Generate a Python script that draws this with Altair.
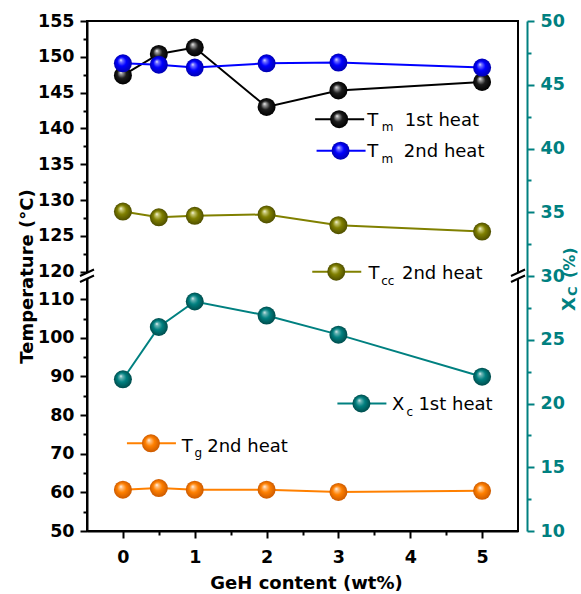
import altair as alt
import pandas as pd

# ---------------- data ----------------
ge_content = [0, 0.5, 1, 2, 3, 5]
tm_1st_heat = [147.4, 150.4, 151.3, 143.0, 145.3, 146.5]
tm_2nd_heat = [149.1, 148.9, 148.5, 149.1, 149.2, 148.5]
tcc_2nd_heat = [128.4, 127.6, 127.8, 128.0, 126.5, 125.6]
tg_2nd_heat = [60.7, 61.1, 60.7, 60.7, 60.1, 60.4]
xc_1st_heat = [21.9, 26.0, 28.0, 26.9, 25.4, 22.1]

x_ticks = [0, 1, 2, 3, 4, 5]
x_minor_ticks = [0.5, 1.5, 2.5, 3.5, 4.5]
temp_ticks = [50, 60, 70, 80, 90, 100, 110, 120, 125, 130, 135, 140, 145, 150, 155]
temp_minor_ticks = [55, 65, 75, 85, 95, 105, 122.5, 127.5, 132.5, 137.5, 142.5, 147.5, 152.5]
xc_ticks = [10, 15, 20, 25, 30, 35, 40, 45, 50]
xc_minor_ticks = [12.5, 17.5, 22.5, 27.5, 32.5, 37.5, 42.5, 47.5]

left_series = ["Tm 1st heat", "Tm 2nd heat", "Tcc 2nd heat", "Tg 2nd heat"]
left_values = [tm_1st_heat, tm_2nd_heat, tcc_2nd_heat, tg_2nd_heat]

# in-plot legend entries (anchor = legend marker, in data units)
label_series = ["Tm 1st heat", "Tm 2nd heat", "Tcc 2nd heat", "Xc 1st heat", "Tg 2nd heat"]
label_x = [3.01, 3.03, 2.97, 3.32, 0.39]
label_y = [141.3, 136.9, 120.0, 20.0, 72.7]
label_main = ["T", "T", "T", "X", "T"]
label_sub = ["m", "m", "cc", "c", "g"]
label_rest = ["1st heat", "2nd heat", "2nd heat", "1st heat", "2nd heat"]

# ---------------- styles ----------------
FONT = "DejaVu Sans"
TEAL = "#008080"
COLORS = {
    "Tm 1st heat": "#000000",
    "Tm 2nd heat": "#0000ff",
    "Tcc 2nd heat": "#808000",
    "Xc 1st heat": TEAL,
    "Tg 2nd heat": "#ff8000",
}
BALL = {
    "Tm 1st heat": ("#a0a0a0", "#1c1c1c", "#000000"),
    "Tm 2nd heat": ("#7878ff", "#0000ff", "#0000b0"),
    "Tcc 2nd heat": ("#caca78", "#808000", "#4e4e00"),
    "Xc 1st heat": ("#70b8b8", "#008080", "#004c4c"),
    "Tg 2nd heat": ("#ffc48a", "#ff8000", "#cc5a00"),
}
# dx of main letter, dx of subscript, dx of rest, dy baseline
LABEL_OFFSETS = {
    "Tm 1st heat": (28, 42.5, 65.7, 6.7),
    "Tm 2nd heat": (26.6, 41, 63.3, 6.6),
    "Tcc 2nd heat": (32.3, 45, 65.7, 7.6),
    "Xc 1st heat": (30.7, 45, 57, 6.7),
    "Tg 2nd heat": (30.7, 43.5, 56.3, 8.4),
}

XS = alt.Scale(domain=[-0.5, 5.5], nice=False, zero=False)
YL = alt.Scale(domain=[50, 116, 119.4, 155], range=[510, 255, 255, 0], nice=False, zero=False)
YR = alt.Scale(domain=[10, 50], range=[510, 0], nice=False, zero=False)


def gradient(name):
    light, main, dark = BALL[name]
    return {
        "gradient": "radial",
        "x1": 0.38, "y1": 0.32, "r1": 0.0,
        "x2": 0.5, "y2": 0.5, "r2": 0.5,
        "stops": [
            {"offset": 0.0, "color": "#ffffff"},
            {"offset": 0.16, "color": light},
            {"offset": 0.5, "color": main},
            {"offset": 1.0, "color": dark},
        ],
    }


def ball(name):
    return dict(shape="circle", filled=True, fill=gradient(name), strokeWidth=0, size=324, opacity=1)


def X(field="x", axis=None):
    return alt.X(f"{field}:Q", scale=XS, axis=axis)


def YLe(field="y", axis=None):
    return alt.Y(f"{field}:Q", scale=YL, axis=axis)


def YRe(field="y", axis=None):
    return alt.Y(f"{field}:Q", scale=YR, axis=axis)


common_axis = dict(
    labelFont=FONT, labelFontSize=17.5, labelFontWeight="bold",
    titleFont=FONT, titleFontSize=18, titleFontWeight="bold",
    grid=False, labelOverlap=False, labelFlush=False, tickWidth=2, domainWidth=2,
)

AX_X = alt.Axis(orient="bottom", values=x_ticks, format="d", title="GeH content (wt%)",
                titleY=57, titleX=219, titleBaseline="alphabetic", titleAlign="center",
                tickSize=7, labelPadding=10, labelColor="black", tickColor="black",
                domainColor="black", titleColor="black", **common_axis)
AX_X_MIN = alt.Axis(orient="bottom", values=x_minor_ticks, title="", labels=False, domain=False,
                    tickSize=4, tickWidth=2, tickColor="black", grid=False)
AX_L = alt.Axis(orient="left", values=temp_ticks, format="d", title="Temperature (°C)",
                titleAngle=270, titleX=-55, titleY=255, titleBaseline="alphabetic", titleAlign="center",
                tickSize=7, labelPadding=6, labelColor="black", tickColor="black",
                domainColor="black", titleColor="black", **common_axis)
AX_L_MIN = alt.Axis(orient="left", values=temp_minor_ticks, title="", labels=False, domain=False,
                    tickSize=4, tickWidth=2, tickColor="black", grid=False)
AX_R = alt.Axis(orient="right", values=xc_ticks, format="d", title="", offset=9,
                tickSize=7, labelPadding=6, labelColor=TEAL, tickColor=TEAL,
                domainColor=TEAL, **common_axis)
AX_R_MIN = alt.Axis(orient="right", values=xc_minor_ticks, title="", labels=False, domain=False,
                    offset=9, tickSize=4, tickWidth=2, tickColor=TEAL, grid=False)

# ---------------- tables ----------------
df_left = pd.DataFrame(
    [{"x": x, "y": v, "series": s} for s, vals in zip(left_series, left_values) for x, v in zip(ge_content, vals)]
)
df_xc = pd.DataFrame({"x": ge_content, "y": xc_1st_heat})
axis_df = pd.DataFrame({"x": [0.0], "y": [100.0], "r": [20.0]})
break_df = pd.DataFrame({"x": [-0.5, 5.5], "y": [117.7, 117.7]})

layers = []

# axes carriers
layers.append(alt.Chart(axis_df).mark_point(opacity=0).encode(x=X(axis=AX_X), y=YLe(axis=AX_L)))
layers.append(alt.Chart(axis_df).mark_point(opacity=0).encode(x=X(axis=AX_X_MIN), y=YLe(axis=AX_L_MIN)))
layers.append(alt.Chart(axis_df).mark_point(opacity=0).encode(x=X(), y=YRe("r", axis=AX_R)))
layers.append(alt.Chart(axis_df).mark_point(opacity=0).encode(x=X(), y=YRe("r", axis=AX_R_MIN)))

# data lines
layers.append(
    alt.Chart(df_left).mark_line(strokeWidth=2).encode(
        x=X(), y=YLe(),
        color=alt.Color("series:N", scale=alt.Scale(domain=left_series, range=[COLORS[s] for s in left_series]),
                        legend=None),
    )
)
layers.append(alt.Chart(df_xc).mark_line(strokeWidth=2, color=TEAL).encode(x=X(), y=YRe()))

# data balls
for s in left_series:
    layers.append(
        alt.Chart(df_left).transform_filter(alt.datum.series == s).mark_point(**ball(s)).encode(x=X(), y=YLe())
    )
layers.append(alt.Chart(df_xc).mark_point(**ball("Xc 1st heat")).encode(x=X(), y=YRe()))

# in-plot legend entries
for i, name in enumerate(label_series):
    sc = YR if name == "Xc 1st heat" else YL
    d = pd.DataFrame({"x": [label_x[i]], "y": [label_y[i]], "main": [label_main[i]],
                      "sub": [label_sub[i]], "rest": [label_rest[i]]})
    base = alt.Chart(d).encode(x=X(), y=alt.Y("y:Q", scale=sc, axis=None))
    dxm, dxs, dxr, dy = LABEL_OFFSETS[name]
    layers.append(base.mark_rule(color=COLORS[name], strokeWidth=2, xOffset=-24, x2Offset=25).encode(x2="x:Q"))
    layers.append(base.mark_point(**ball(name)))
    layers.append(base.mark_text(align="left", baseline="alphabetic", font=FONT, fontSize=18, color="black",
                                 dx=dxm, dy=dy).encode(text="main:N"))
    layers.append(base.mark_text(align="left", baseline="alphabetic", font=FONT, fontSize=12, color="black",
                                 dx=dxs, dy=dy + 5.5).encode(text="sub:N"))
    layers.append(base.mark_text(align="left", baseline="alphabetic", font=FONT, fontSize=18, color="black",
                                 dx=dxr, dy=dy).encode(text="rest:N"))

# right axis title (X_C (%)), kept inside the figure edge
rt = pd.DataFrame({"x": [6.29], "y": [27.25], "a": ["X"], "b": ["C"], "c": ["(%)"]})
rbase = alt.Chart(rt).encode(x=X(), y=alt.Y("y:Q", scale=YR, axis=None))
layers.append(rbase.mark_text(angle=270, align="left", baseline="alphabetic", font=FONT, fontWeight="bold",
                              fontSize=18, color=TEAL).encode(text="a:N"))
layers.append(rbase.mark_text(angle=270, align="left", baseline="alphabetic", font=FONT, fontWeight="bold",
                              fontSize=13, color=TEAL, dx=15, dy=2.5).encode(text="b:N"))
layers.append(rbase.mark_text(angle=270, align="left", baseline="alphabetic", font=FONT, fontWeight="bold",
                              fontSize=16, color=TEAL, dx=33).encode(text="c:N"))

# axis break marks
layers.append(alt.Chart(break_df).mark_point(shape="M-1,0L1,-0.93L1,-0.07L-1,0.86Z", filled=True, fill="white",
                                             strokeWidth=0, size=196, opacity=1).encode(x=X(), y=YLe()))
layers.append(alt.Chart(break_df).mark_point(shape="M-1,0L1,-0.93M-1,0.86L1,-0.07", filled=False, stroke="black",
                                             strokeWidth=2, size=196, opacity=1).encode(x=X(), y=YLe()))

chart = (
    alt.layer(*layers)
    .resolve_scale(x="independent", y="independent", color="independent")
    .resolve_axis(x="independent", y="independent")
    .properties(
        width=431, height=510,
        autosize=alt.AutoSizeParams(type="none"),
        padding={"left": 87, "top": 21, "right": 63, "bottom": 63},
        background="white",
    )
    .configure_view(stroke="black", strokeWidth=2)
)

chart.save("out.html", embed_options={"renderer": "svg", "actions": False})
